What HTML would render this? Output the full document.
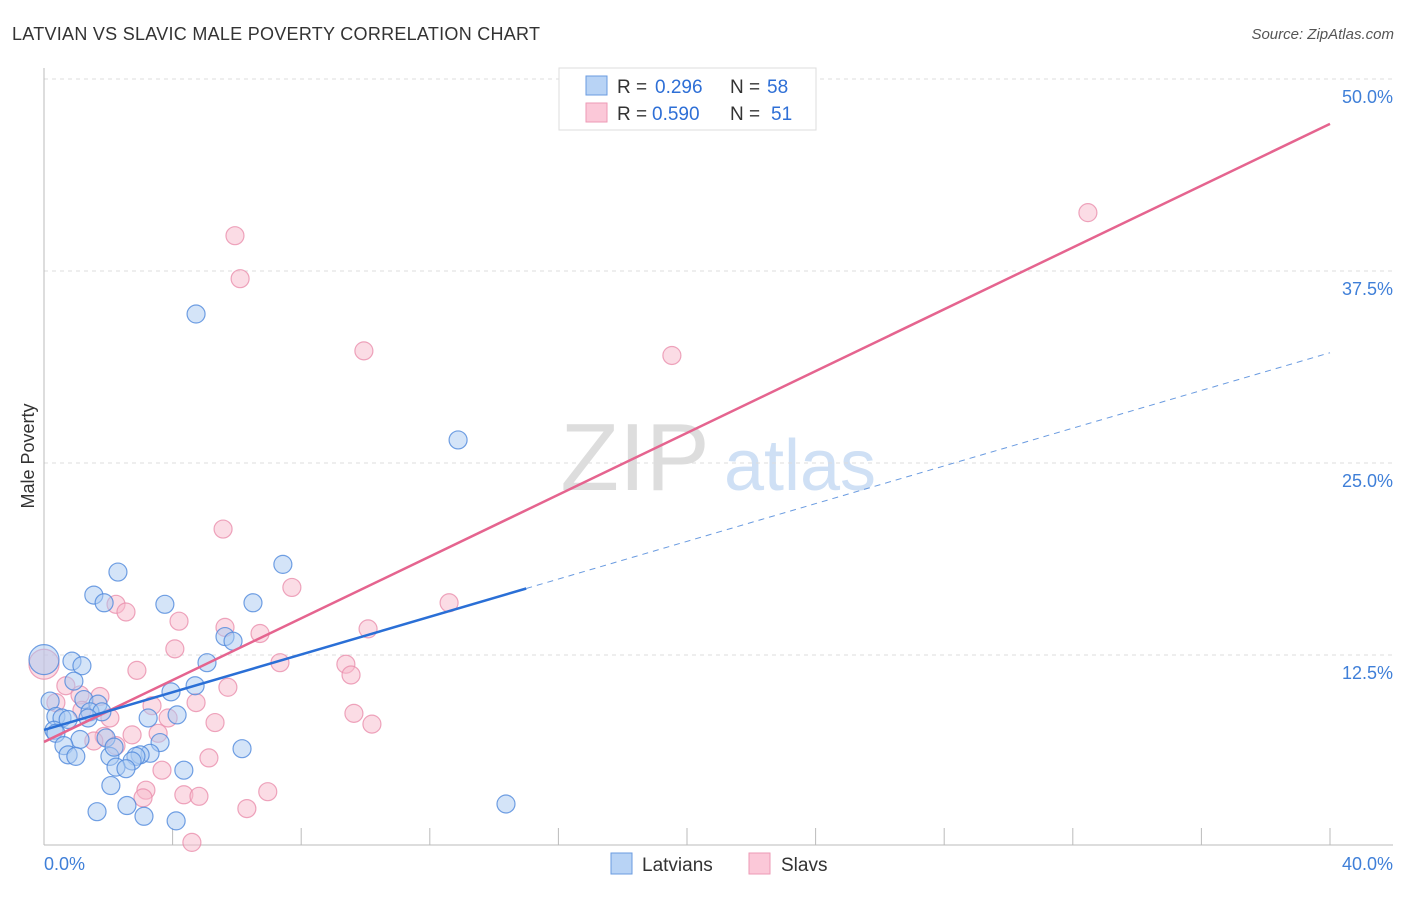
<!DOCTYPE html>
<html><head><meta charset="utf-8"><style>
body{margin:0;background:#fff;font-family:"Liberation Sans",sans-serif;}
svg text{font-family:"Liberation Sans",sans-serif;}
</style></head><body>
<svg id="c" width="1406" height="892" xmlns="http://www.w3.org/2000/svg">
<text x="12" y="40" font-size="18" fill="#333" textLength="528" lengthAdjust="spacing">LATVIAN VS SLAVIC MALE POVERTY CORRELATION CHART</text>
<text x="1394" y="39" font-size="15" fill="#555" font-style="italic" text-anchor="end">Source: ZipAtlas.com</text>
<text x="34" y="456" font-size="18" fill="#333" text-anchor="middle" transform="rotate(-90 34 456)">Male Poverty</text>
<g><text x="635" y="490" font-size="96" fill="#ddd" font-family="Liberation Serif" text-anchor="middle">ZIP</text><text x="800" y="490" font-size="72" fill="#cfe0f5" text-anchor="middle">atlas</text></g>
<g id="grid"></g><g id="axes"></g><g id="pts"></g><g id="lines"></g>
<g>
<rect x="559" y="68" width="257" height="62" fill="#fff" stroke="#ddd"/>
<rect x="586" y="76" width="21" height="19" fill="#b8d3f5" stroke="#6a9be0"/>
<rect x="586" y="103" width="21" height="19" fill="#fbc8d8" stroke="#ee9ab6"/>
<text x="617" y="93" font-size="19" fill="#333">R =</text>
<text x="655" y="93" font-size="19" fill="#2e6fd6">0.296</text>
<text x="730" y="93" font-size="19" fill="#333">N =</text>
<text x="767" y="93" font-size="19" fill="#2e6fd6">58</text>
<text x="617" y="120" font-size="19" fill="#333">R =</text>
<text x="652" y="120" font-size="19" fill="#2e6fd6">0.590</text>
<text x="730" y="120" font-size="19" fill="#333">N =</text>
<text x="771" y="120" font-size="19" fill="#2e6fd6">51</text>
</g>
<g>
<rect x="611" y="853" width="21" height="21" fill="#b8d3f5" stroke="#6a9be0"/><text x="642" y="871" font-size="19" fill="#333">Latvians</text>
<rect x="749" y="853" width="21" height="21" fill="#fbc8d8" stroke="#ee9ab6"/><text x="781" y="871" font-size="19" fill="#333">Slavs</text>
</g>
</svg>
<script>
const xTicks=[0,4,8,12,16,20,24,28,32,36,40];
const yTicks=[12.5,25,37.5,50];
const yTickLabels=["12.5%","25.0%","37.5%","50.0%"];
const latX=[4.73,12.88,2.3,7.43,1.55,1.87,3.76,6.5,5.63,5.88,5.07,0,0.87,1.18,0.93,4.7,3.95,0.19,1.24,1.68,4.14,3.24,0.37,0.56,0.75,1.43,1.8,1.37,0.31,0.37,1.12,1.93,0.62,3.61,6.16,3.3,2.99,2.86,2.74,2.05,0.75,0.99,2.18,2.24,2.55,4.35,2.08,14.37,1.65,2.58,3.11,4.11];
const latY=[34.7,26.5,17.9,18.4,16.4,15.9,15.8,15.9,13.7,13.4,12.0,12.2,12.1,11.8,10.8,10.5,10.1,9.5,9.6,9.3,8.6,8.4,8.5,8.4,8.3,8.8,8.8,8.4,7.6,7.4,7.0,7.1,6.6,6.8,6.4,6.1,6.0,5.9,5.6,5.9,6.0,5.9,6.5,5.2,5.1,5.0,4.0,2.8,2.3,2.7,2.0,1.7];
const slvX=[32.47,5.94,6.1,9.95,19.53,5.57,7.71,12.6,2.24,2.55,4.2,5.63,6.72,10.08,4.07,7.34,2.89,9.39,9.55,0.68,5.72,1.12,1.74,0.37,4.73,3.36,1.18,2.05,3.86,9.64,10.2,5.32,3.55,1.87,2.74,1.55,2.24,5.13,3.67,3.17,4.35,4.82,6.96,3.08,6.31,4.6,0];
const slvY=[41.3,39.8,37.0,32.3,32.0,20.7,16.9,15.9,15.8,15.3,14.7,14.3,13.9,14.2,12.9,12.0,11.5,11.9,11.2,10.5,10.4,9.9,9.8,9.4,9.4,9.2,8.9,8.4,8.4,8.7,8.0,8.1,7.4,7.2,7.3,6.9,6.6,5.8,5.0,3.7,3.4,3.3,3.6,3.2,2.5,0.3,11.9];
const fitLine={lat:[7.62,0.614,15.0],slv:[6.84,1.006]};
const X=v=>44+v*32.15, Y=v=>847-v*15.36;
const ns="http://www.w3.org/2000/svg";
function mk(t,a,p){const e=document.createElementNS(ns,t);for(const k in a)e.setAttribute(k,a[k]);p.appendChild(e);return e;}
const grid=document.getElementById('grid'),axes=document.getElementById('axes'),pts=document.getElementById('pts'),lines=document.getElementById('lines');
yTicks.forEach((v,i)=>{
 const g=mk('line',{x1:44,x2:1393,y1:Y(v),y2:Y(v),stroke:'#ddd','stroke-dasharray':'4,4'},grid);
 
 
 const t=mk('text',{x:1393,y:Y(v)+24,'font-size':18,fill:'#3f7fd8','text-anchor':'end'},axes);
 t.textContent=yTickLabels[i];
 
 
});
mk('line',{x1:44,x2:44,y1:68,y2:845,stroke:'#bbb'},axes);
mk('line',{x1:44,x2:1393,y1:845,y2:845,stroke:'#bbb'},axes);
xTicks.forEach(v=>{const l=mk('line',{x1:X(v),x2:X(v),y1:828,y2:845,stroke:'#bbb'},axes);
 
 });
let t0=mk('text',{x:44,y:870,'font-size':18,fill:'#3f7fd8'},axes);t0.textContent='0.0%';


let t1=mk('text',{x:1393,y:870,'font-size':18,fill:'#3f7fd8','text-anchor':'end'},axes);t1.textContent='40.0%';


function dots(xs,ys,fill,stroke,name){xs.forEach((x,i)=>{const big=(x===0&&i===xs.length-1)||(x===0&&name==='latvian-point');
 const c=mk('circle',{cx:X(x),cy:Y(ys[i]),r:big?15:9,fill:fill,'fill-opacity':0.5,stroke:stroke,'stroke-opacity':0.8,'stroke-width':1.2},pts);
 
 });}
dots(slvX,slvY,'#f7b9cc','#ea8eac','slav-point');
dots(latX,latY,'#a9c9f2','#4f88dc','latvian-point');
const la=fitLine.lat,sl=fitLine.slv;
let l1=mk('line',{x1:X(0),y1:Y(sl[0]),x2:X(40),y2:Y(sl[0]+sl[1]*40),stroke:'#e5648f','stroke-width':2.5},lines);


let l2=mk('line',{x1:X(0),y1:Y(la[0]),x2:X(la[2]),y2:Y(la[0]+la[1]*la[2]),stroke:'#2a6fd6','stroke-width':2.5},lines);


let l3=mk('line',{x1:X(la[2]),y1:Y(la[0]+la[1]*la[2]),x2:X(40),y2:Y(la[0]+la[1]*40),stroke:'#6a9be0','stroke-width':1,'stroke-dasharray':'6,5'},lines);


</script>
</body></html>
